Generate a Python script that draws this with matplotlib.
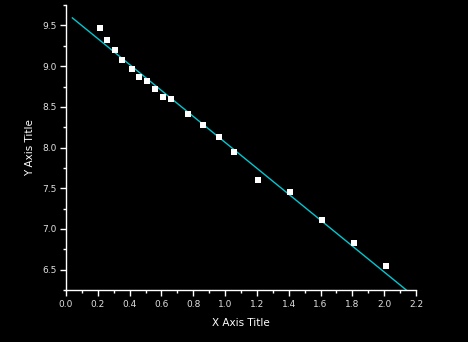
import matplotlib
matplotlib.use("Agg")
import matplotlib.pyplot as plt
import matplotlib.ticker as ticker
import numpy as np

x_vals = [0.212, 0.26, 0.308, 0.354, 0.413, 0.461, 0.511, 0.562, 0.612, 0.658,
          0.765, 0.862, 0.962, 1.059, 1.208, 1.407, 1.612, 1.807, 2.01]
y_vals = [9.463, 9.316, 9.194, 9.071, 8.964, 8.870, 8.821, 8.716, 8.621, 8.600,
          8.417, 8.278, 8.135, 7.944, 7.60, 7.453, 7.110, 6.824, 6.543]

# fitted line
fit_x = [0.04, 2.2]
fit_slope = -1.593
fit_intercept = 9.657

fig = plt.figure(figsize=(4.68, 3.42), dpi=100, facecolor="black")
ax = fig.add_axes([0.141, 0.152, 0.748, 0.833], facecolor="black")

fx = np.array(fit_x)
ax.plot(fx, fit_slope * fx + fit_intercept, color="#00c8d2", linewidth=1.0, zorder=2)
ax.plot(x_vals, y_vals, "s", color="white", markersize=4, markeredgewidth=0, zorder=3)

ax.set_xlim(0.0, 2.2)
ax.set_ylim(6.25, 9.75)
ax.xaxis.set_major_locator(ticker.MultipleLocator(0.2))
ax.xaxis.set_minor_locator(ticker.MultipleLocator(0.1))
ax.yaxis.set_major_locator(ticker.MultipleLocator(0.5))
ax.yaxis.set_minor_locator(ticker.MultipleLocator(0.25))
ax.xaxis.set_major_formatter(ticker.FormatStrFormatter("%.1f"))
ax.yaxis.set_major_formatter(ticker.FormatStrFormatter("%.1f"))

for side in ("top", "right"):
    ax.spines[side].set_visible(False)
for side in ("left", "bottom"):
    ax.spines[side].set_color("white")
    ax.spines[side].set_linewidth(1.0)

ax.tick_params(which="major", direction="out", length=4, width=1, colors="white",
               labelsize=6.5, labelcolor="#e0e0e0", pad=3)
ax.tick_params(which="minor", direction="out", length=2.5, width=1, colors="white")

ax.set_xlabel("X Axis Title", color="white", fontsize=7.5, labelpad=7)
ax.set_ylabel("Y Axis Title", color="white", fontsize=7.5, labelpad=5)

fig.savefig("out.png", dpi=100, facecolor="black")
